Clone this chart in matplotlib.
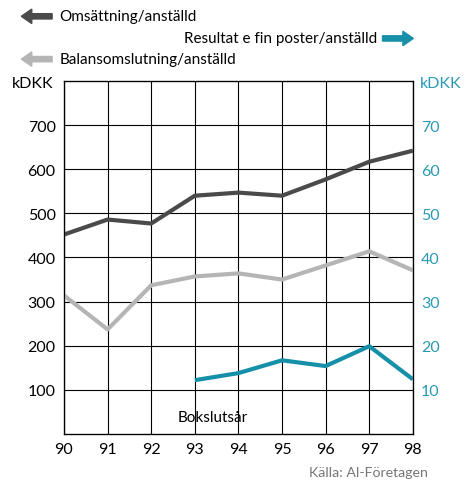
import matplotlib.pyplot as plt

plt.rcParams['font.family'] = ['Lato', 'DejaVu Sans']

years = [90, 91, 92, 93, 94, 95, 96, 97, 98]
omsattning = [452, 486, 477, 540, 547, 540, 577, 617, 642]
balans = [314, 237, 337, 357, 364, 350, 382, 414, 371]
res_years = [93, 94, 95, 96, 97, 98]
resultat = [12.2, 13.8, 16.7, 15.4, 19.9, 12.4]

dark = '#4a4a4a'
light = '#b5b5b5'
teal = '#1590a8'
teal_txt = '#2a9ab3'

fig = plt.figure(figsize=(4.74, 4.81), dpi=100)
ax = fig.add_axes([0.135, 0.0956, 0.736, 0.734])

ax.plot(years, omsattning, color=dark, lw=3, solid_capstyle='butt', zorder=3)
ax.plot(years, balans, color=light, lw=3, solid_capstyle='butt', zorder=3)
ax.set_xlim(90, 98)
ax.set_ylim(0, 800)
ax.set_xticks(years)
ax.set_xticklabels([str(y) for y in years])
ax.set_yticks([100, 200, 300, 400, 500, 600, 700])
ax.grid(True, color='black', lw=0.8)
ax.tick_params(length=0, labelsize=11.5, pad=6)
for s in ax.spines.values():
    s.set_linewidth(0.9)

ax2 = ax.twinx()
ax2.plot(res_years, resultat, color=teal, lw=3, solid_capstyle='butt', zorder=3)
ax2.set_ylim(0, 80)
ax2.set_yticks([10, 20, 30, 40, 50, 60, 70])
ax2.tick_params(length=0, labelsize=11.5, pad=6, colors=teal_txt)

fig.text(0.025, 0.826, 'kDKK', fontsize=11.5, va='center', ha='left')
fig.text(0.885, 0.826, 'kDKK', fontsize=11.5, va='center', ha='left', color=teal_txt)
ax.text(93.42, 39, 'Bokslutsår', fontsize=11, va='center', ha='center')
fig.text(0.903, 0.017, 'Källa: Al-Företagen', fontsize=10.2, color='#777777',
         ha='right', va='center')

# legend arrows
def arrow(x0, x1, y, color):
    fig.patches.append(plt.matplotlib.patches.FancyArrow(
        x0, y, x1 - x0, 0, width=0.011, head_width=0.03,
        head_length=0.022, length_includes_head=True, color=color,
        transform=fig.transFigure, figure=fig))

arrow(0.11, 0.045, 0.964, dark)
fig.text(0.126, 0.964, 'Omsättning/anställd', fontsize=11, va='center')
arrow(0.807, 0.872, 0.918, teal)
fig.text(0.795, 0.918, 'Resultat e fin poster/anställd', fontsize=11,
         va='center', ha='right')
arrow(0.11, 0.045, 0.875, light)
fig.text(0.126, 0.875, 'Balansomslutning/anställd', fontsize=11, va='center')

fig.savefig('out.png', dpi=100)
